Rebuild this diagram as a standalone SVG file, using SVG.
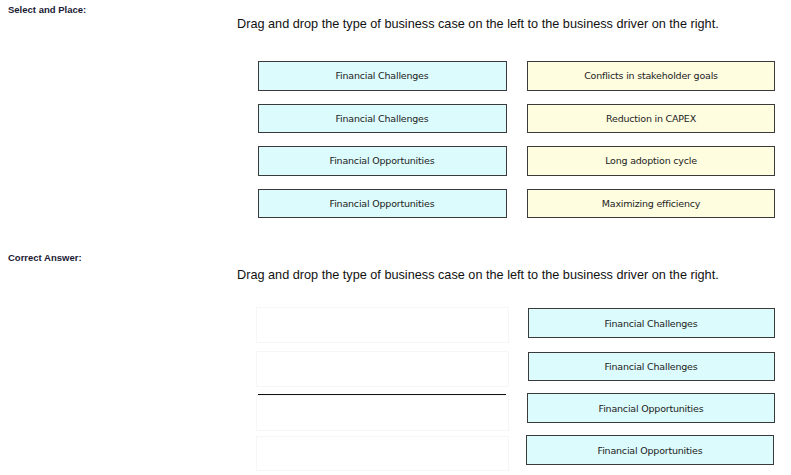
<svg xmlns="http://www.w3.org/2000/svg" width="791" height="475" viewBox="0 0 791 475">
<style>
.hdr{font-family:"Liberation Sans",Arial,sans-serif;font-size:9.5px;font-weight:bold;fill:#1a1a33}
.ttl{font-family:"Liberation Sans",Arial,sans-serif;font-size:12.7px;fill:#111}
.lbl{font-family:"DejaVu Sans","Liberation Sans",sans-serif;font-size:9.5px;fill:#222;text-anchor:middle;letter-spacing:-0.2px}
.cy{fill:#dcfbfc;stroke:#3a3a3a;stroke-width:1}
.yl{fill:#fefde0;stroke:#3a3a3a;stroke-width:1}
.ph{fill:#ffffff;stroke:#f6f6f6;stroke-width:1}
</style>
<rect width="791" height="475" fill="#ffffff"/>
<text class="hdr" x="8" y="13">Select and Place:</text>
<text class="ttl" x="237" y="28">Drag and drop the type of business case on the left to the business driver on the right.</text>
<g id="src1"><rect class="cy" x="258.5" y="61.5" width="248" height="29"/><text class="lbl" x="382" y="79">Financial Challenges</text></g>
<g id="src2"><rect class="cy" x="258.5" y="104.5" width="248" height="28"/><text class="lbl" x="382" y="122">Financial Challenges</text></g>
<g id="src3"><rect class="cy" x="258.5" y="146.5" width="248" height="29"/><text class="lbl" x="382" y="164">Financial Opportunities</text></g>
<g id="src4"><rect class="cy" x="258.5" y="189.5" width="248" height="28"/><text class="lbl" x="382" y="207">Financial Opportunities</text></g>
<g id="drv1"><rect class="yl" x="527.5" y="61.5" width="247" height="29"/><text class="lbl" x="651" y="79">Conflicts in stakeholder goals</text></g>
<g id="drv2"><rect class="yl" x="527.5" y="104.5" width="247" height="28"/><text class="lbl" x="651" y="122">Reduction in CAPEX</text></g>
<g id="drv3"><rect class="yl" x="527.5" y="146.5" width="247" height="29"/><text class="lbl" x="651" y="164">Long adoption cycle</text></g>
<g id="drv4"><rect class="yl" x="527.5" y="189.5" width="247" height="28"/><text class="lbl" x="651" y="207">Maximizing efficiency</text></g>
<text class="hdr" x="8" y="261">Correct Answer:</text>
<text class="ttl" x="237" y="279">Drag and drop the type of business case on the left to the business driver on the right.</text>
<g id="ph1"><rect class="ph" x="256.5" y="307.5" width="252" height="35"/></g>
<g id="ph2"><rect class="ph" x="256.5" y="351.5" width="252" height="35"/></g>
<g id="ph3"><rect class="ph" x="256.5" y="395.5" width="252" height="35"/></g>
<g id="ph4"><rect class="ph" x="256.5" y="436.5" width="252" height="34"/></g>
<g id="connectors"><line x1="258" y1="394.5" x2="506" y2="394.5" stroke="#111" stroke-width="1"/></g>
<g id="ans1"><rect class="cy" x="528.5" y="308.5" width="246" height="29"/><text class="lbl" x="651" y="327">Financial Challenges</text></g>
<g id="ans2"><rect class="cy" x="528.5" y="352.5" width="246" height="28"/><text class="lbl" x="651" y="370">Financial Challenges</text></g>
<g id="ans3"><rect class="cy" x="527.5" y="393.5" width="247" height="29"/><text class="lbl" x="651" y="412">Financial Opportunities</text></g>
<g id="ans4"><rect class="cy" x="526.5" y="435.5" width="247" height="29"/><text class="lbl" x="650" y="454">Financial Opportunities</text></g>
</svg>
